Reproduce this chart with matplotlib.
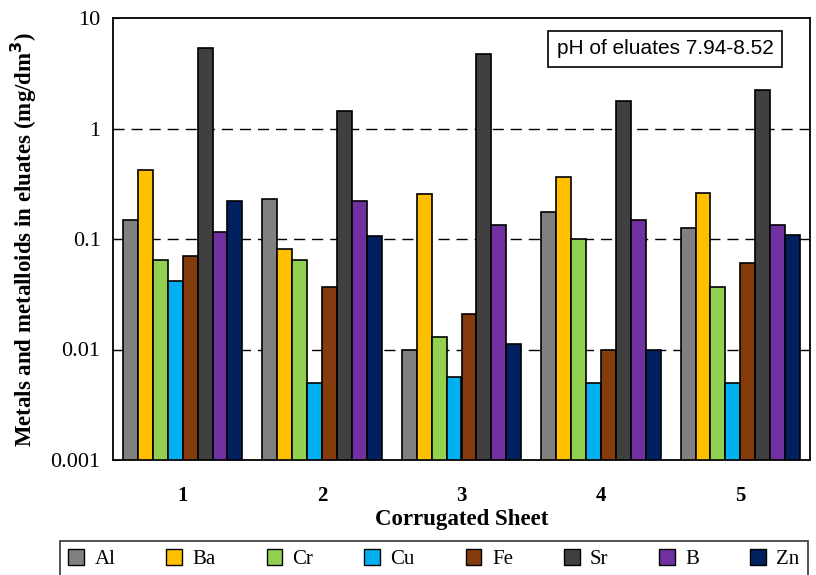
import numpy as np
import matplotlib.pyplot as plt
from matplotlib.patches import Patch

# corrugated sheet samples
sheets = ["1", "2", "3", "4", "5"]
elements = ["Al", "Ba", "Cr", "Cu", "Fe", "Sr", "B", "Zn"]
colors = ["#808080", "#FFC000", "#92D050", "#00B0F0", "#843C0C", "#404040", "#7030A0", "#002060"]

# concentrations in mg/dm3, one list per element (sheets 1..5)
al = [0.15, 0.23, 0.010, 0.174, 0.126]
ba = [0.42, 0.081, 0.257, 0.367, 0.26]
cr = [0.065, 0.065, 0.0129, 0.101, 0.0366]
cu = [0.042, 0.005, 0.0056, 0.005, 0.005]
fe = [0.070, 0.0366, 0.021, 0.010, 0.061]
sr = [5.4, 1.45, 4.75, 1.79, 2.22]
b = [0.116, 0.222, 0.133, 0.148, 0.133]
zn = [0.222, 0.107, 0.0111, 0.010, 0.109]
values = [al, ba, cr, cu, fe, sr, b, zn]

serif = "Liberation Serif"
ymin = 0.001

fig = plt.figure(figsize=(8.16, 5.75), dpi=100)
ax = fig.add_axes([113/816, 1-460/575, 697/816, 442/575])

x = np.arange(len(sheets))
w = 0.107
for i, (el, col, vals) in enumerate(zip(elements, colors, values)):
    # bars start at the axis floor, so height is value minus floor
    ax.bar(x + (i - 3.5)*w, np.array(vals) - ymin, w, bottom=ymin, color=col, edgecolor="black",
           linewidth=1.2, zorder=3)

ax.set_yscale("log")
ax.set_ylim(ymin, 10)
ax.set_xlim(-0.5, 4.5)
ax.set_yticks([0.001, 0.01, 0.1, 1, 10])
ax.set_yticklabels(["0.001", "0.01", "0.1", "1", "10"], fontfamily=serif, fontsize=16)
ax.minorticks_off()
ax.tick_params(axis="y", direction="in", length=4, pad=9)
ax.set_xticks(x)
ax.set_xticklabels(sheets, fontfamily=serif, fontsize=15, fontweight="bold")
ax.tick_params(axis="x", length=0, pad=19)
for yv in [0.01, 0.1, 1]:
    ax.axhline(yv, color="black", linestyle=(0, (8, 5)), linewidth=1, zorder=1)
for s in ax.spines.values():
    s.set_linewidth(1.3)

ax.set_xlabel("Corrugated Sheet", fontfamily=serif, fontsize=16.5, fontweight="bold", labelpad=2)
ax.set_ylabel("Metals and metalloids in eluates (mg/dm$^\\mathbf{3}$)", fontfamily=serif, fontsize=16.5,
              fontweight="bold", labelpad=8)

ax.text(0.792, 0.930, "pH of eluates 7.94-8.52", transform=ax.transAxes, ha="center", va="center",
        fontfamily="Liberation Sans", fontsize=15,
        bbox=dict(boxstyle="square,pad=0.42", facecolor="white", edgecolor="black", linewidth=1.2), zorder=5)

handles = [Patch(facecolor=c, edgecolor="black", linewidth=1) for c in colors]
leg = fig.legend(handles, elements, loc="upper left", bbox_to_anchor=(60/816, 1-541/575, 748/816, 0.0),
                 mode="expand", ncol=8, frameon=True, fancybox=False, edgecolor="black",
                 prop={"family": serif, "size": 15}, handlelength=0.75, handleheight=0.75,
                 handletextpad=0.5, borderpad=0.4, borderaxespad=0)
leg.get_frame().set_linewidth(1.2)

plt.savefig("out.png", dpi=100)
